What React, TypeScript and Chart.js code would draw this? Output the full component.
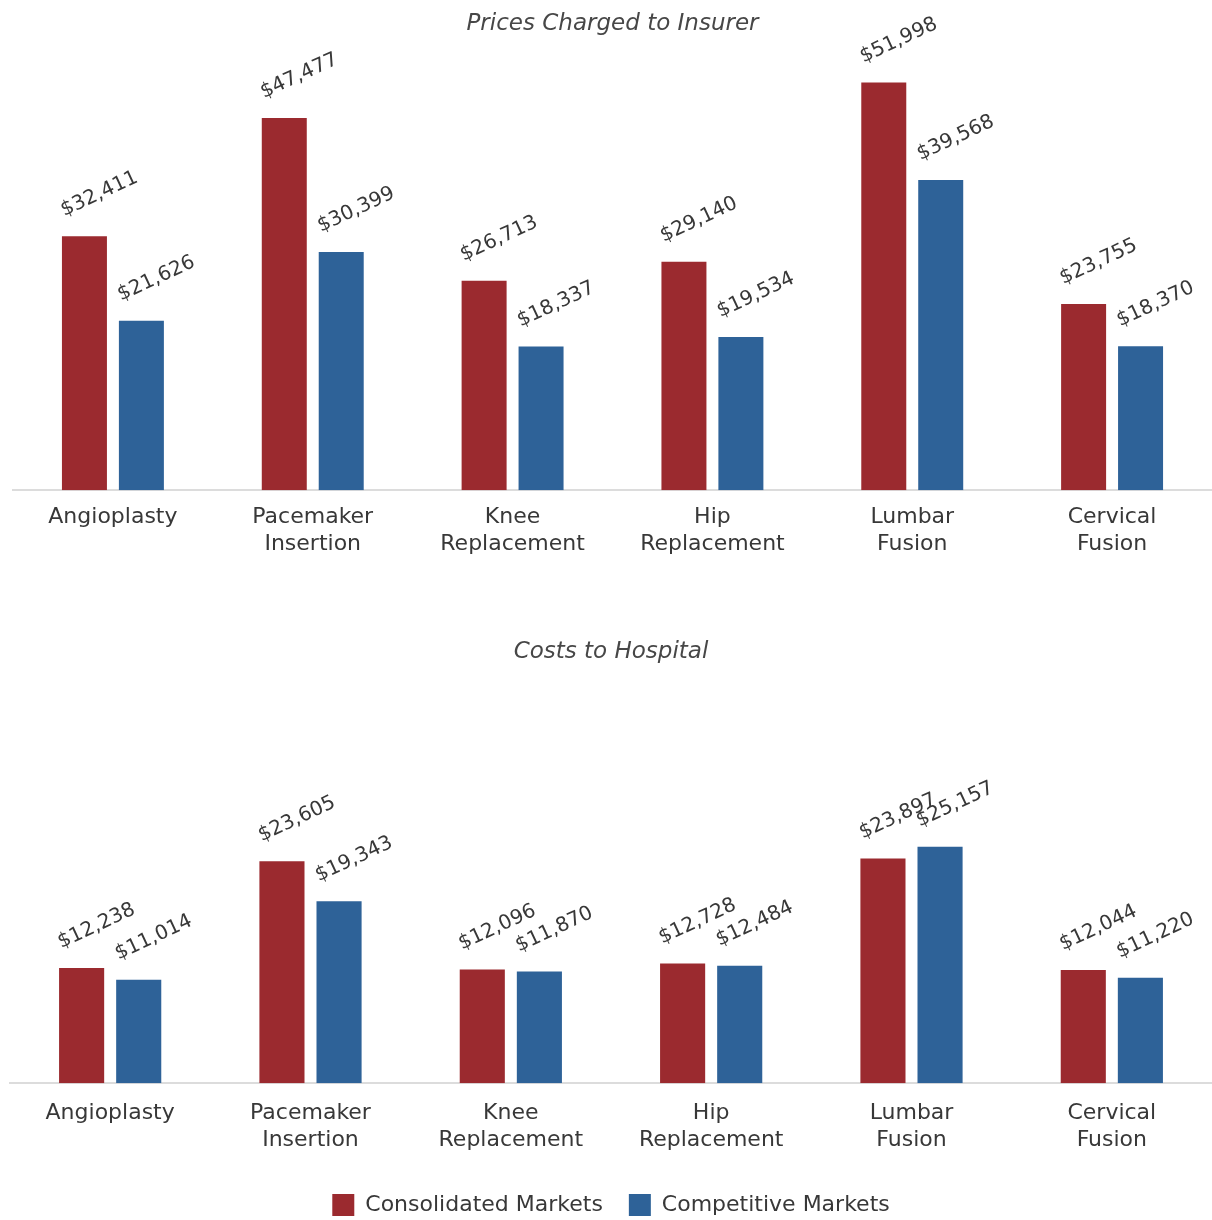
import { useEffect, useRef } from "react";
import { Chart, registerables } from "chart.js";

Chart.register(...registerables);

const categories: string[][] = [
  ["Angioplasty"],
  ["Pacemaker", "Insertion"],
  ["Knee", "Replacement"],
  ["Hip", "Replacement"],
  ["Lumbar", "Fusion"],
  ["Cervical", "Fusion"],
];
const seriesNames = ["Consolidated Markets", "Competitive Markets"];
const priceConsolidated = [32411, 47477, 26713, 29140, 51998, 23755];
const priceCompetitive = [21626, 30399, 18337, 19534, 39568, 18370];
const costConsolidated = [12238, 23605, 12096, 12728, 23897, 12044];
const costCompetitive = [11014, 19343, 11870, 12484, 25157, 11220];
const topTitle = "Prices Charged to Insurer";
const bottomTitle = "Costs to Hospital";

const FONT = "'DejaVu Sans', 'Liberation Sans', sans-serif";
const TEXT = "#383838";
const RED = "#9b2a2f";
const BLUE = "#2e6298";
const AXIS = "#dcdcdc";

const valueLabels = {
  id: "valueLabels",
  afterDatasetsDraw(chart: any) {
    const { ctx } = chart;
    ctx.save();
    ctx.font = `20px ${FONT}`;
    ctx.fillStyle = TEXT;
    ctx.textAlign = "center";
    ctx.textBaseline = "middle";
    chart.data.datasets.forEach((ds: any, i: number) => {
      const meta = chart.getDatasetMeta(i);
      meta.data.forEach((bar: any, j: number) => {
        const v = ds.data[j] as number;
        ctx.save();
        ctx.translate(bar.x + 15, bar.y - 42);
        ctx.rotate((-25 * Math.PI) / 180);
        ctx.fillText("$" + v.toLocaleString("en-US"), 0, 0);
        ctx.restore();
      });
    });
    ctx.restore();
  },
};

function buildConfig(
  title: string,
  consolidated: number[],
  competitive: number[],
  o: {
    max: number;
    titlePad: { top: number; bottom: number };
    left: number;
    tickPad: number;
    extra: number;
    legend: boolean;
  }
): any {
  return {
    type: "bar",
    data: {
      labels: categories,
      datasets: [
        {
          label: seriesNames[0],
          data: consolidated,
          backgroundColor: RED,
          borderWidth: 0,
          categoryPercentage: 0.57,
          barPercentage: 0.79,
        },
        {
          label: seriesNames[1],
          data: competitive,
          backgroundColor: BLUE,
          borderWidth: 0,
          categoryPercentage: 0.57,
          barPercentage: 0.79,
        },
      ],
    },
    options: {
      responsive: false,
      animation: false,
      events: [],
      layout: { padding: { left: o.left, right: 0, top: 0, bottom: 0 } },
      plugins: {
        title: {
          display: true,
          text: title,
          color: "#474747",
          font: { family: FONT, size: 23, style: "italic", weight: "normal" },
          padding: o.titlePad,
        },
        legend: {
          display: o.legend,
          position: "bottom",
          labels: {
            color: TEXT,
            font: { family: FONT, size: 22 },
            boxWidth: 22,
            boxHeight: 22,
            padding: 26,
          },
        },
        tooltip: { enabled: false },
      },
      scales: {
        x: {
          grid: { display: false, drawTicks: false },
          border: { display: true, color: AXIS, width: 2 },
          ticks: {
            color: TEXT,
            font: { family: FONT, size: 22, lineHeight: 1.2 },
            padding: o.tickPad,
            maxRotation: 0,
            autoSkip: false,
          },
          afterFit: (scale: any) => {
            scale.height += o.extra;
          },
        },
        y: {
          display: false,
          min: 0,
          max: o.max,
        },
      },
    },
    plugins: [valueLabels],
  };
}

export default function App() {
  const topRef = useRef<HTMLCanvasElement>(null);
  const botRef = useRef<HTMLCanvasElement>(null);

  useEffect(() => {
    const c1 = new Chart(
      topRef.current!,
      buildConfig(topTitle, priceConsolidated, priceCompetitive, {
        max: 55950,
        titlePad: { top: 10, bottom: 14 },
        left: 13,
        tickPad: 14,
        extra: 0,
        legend: false,
      })
    );
    const c2 = new Chart(
      botRef.current!,
      buildConfig(bottomTitle, costConsolidated, costCompetitive, {
        max: 43450,
        titlePad: { top: 48, bottom: 9 },
        left: 10,
        tickPad: 17,
        extra: -2,
        legend: true,
      })
    );
    return () => {
      c1.destroy();
      c2.destroy();
    };
  }, []);

  return (
    <div
      style={{
        position: "absolute",
        left: 0,
        top: 0,
        width: 1212,
        height: 1220,
        overflow: "hidden",
        background: "#ffffff",
      }}
    >
      <canvas
        ref={topRef}
        width={1212}
        height={571}
        style={{ position: "absolute", left: 0, top: 0 }}
      />
      <canvas
        ref={botRef}
        width={1212}
        height={636}
        style={{ position: "absolute", left: 0, top: 590 }}
      />
    </div>
  );
}
